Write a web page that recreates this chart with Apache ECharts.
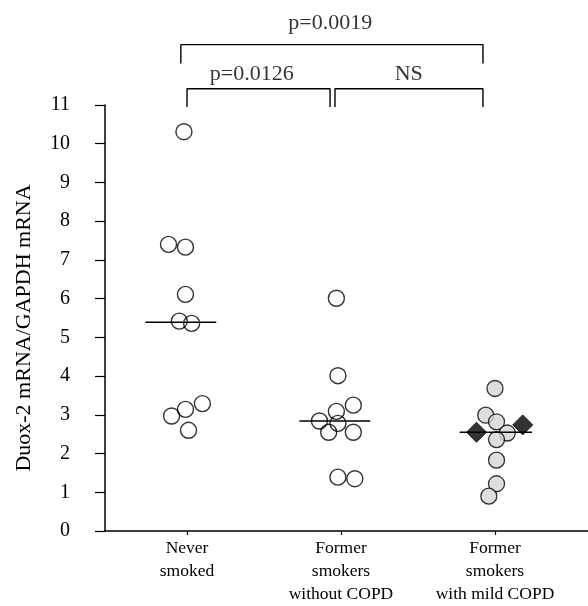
<!DOCTYPE html>
<html>
<head>
<meta charset="utf-8">
<script src="https://cdn.jsdelivr.net/npm/echarts@6/dist/echarts.min.js"></script>
<style>
  html, body { margin: 0; padding: 0; background: #fff; }
  #chart { width: 588px; height: 606px; }
</style>
</head>
<body>
<div id="chart"></div>
<script>
// Group labels and their positions along the x axis
const categories = ['Never\nsmoked', 'Former\nsmokers\nwithout COPD', 'Former\nsmokers\nwith mild COPD'];
const categoryPos = [1, 2, 3];

// Duox-2 / GAPDH mRNA ratios per subject, with horizontal scatter offsets
const neverValues = [10.31, 7.40, 7.33, 6.11, 5.42, 5.36, 3.29, 3.14, 2.97, 2.60];
const neverJitter = [-0.02, -0.12, -0.01, -0.01, -0.05, 0.03, 0.10, -0.01, -0.10, 0.01];

const formerValues = [6.01, 4.01, 3.25, 3.09, 2.84, 2.78, 2.55, 2.55, 1.39, 1.35];
const formerJitter = [-0.03, -0.02, 0.08, -0.03, -0.14, -0.02, -0.08, 0.08, -0.02, 0.09];

const copdValues = [3.68, 2.99, 2.82, 2.53, 2.36, 1.83, 1.22, 0.90];
const copdJitter = [0.00, -0.06, 0.01, 0.08, 0.01, 0.01, 0.01, -0.04];

const copdDiamondValues = [2.55, 2.74];
const copdDiamondJitter = [-0.12, 0.18];

// Group medians and the extent of each median bar (offsets from group position)
const medians = [5.39, 2.84, 2.55];
const medianFrom = [-0.27, -0.27, -0.23];
const medianTo = [0.19, 0.19, 0.24];

// Significance brackets: [x start, x end, y of bar, y of leg ends], and their labels
const brackets = [
  [0.96, 2.922, 12.56, 12.07],
  [1.00, 1.929, 11.42, 10.95],
  [1.961, 2.922, 11.42, 10.95]
];
const bracketLabels = ['p=0.0019', 'p=0.0126', 'NS'];
const bracketLabelPos = [[1.93, 13.1], [1.42, 11.79], [2.44, 11.79]];

const yTicks = [0, 11, 1];

const FONT = '"Liberation Serif", "Times New Roman", serif';

function points(base, values, jitter) {
  return values.map((v, i) => [base + jitter[i], v]);
}

const series = [];

series.push({
  type: 'scatter', z: 3,
  data: points(categoryPos[0], neverValues, neverJitter),
  symbol: 'circle', symbolSize: 16,
  itemStyle: { color: 'rgba(255,255,255,0)', borderColor: '#000', borderWidth: 1.4 }
});
series.push({
  type: 'scatter', z: 3,
  data: points(categoryPos[1], formerValues, formerJitter),
  symbol: 'circle', symbolSize: 16,
  itemStyle: { color: 'rgba(255,255,255,0)', borderColor: '#000', borderWidth: 1.4 }
});
series.push({
  type: 'scatter', z: 3,
  data: points(categoryPos[2], copdValues, copdJitter),
  symbol: 'circle', symbolSize: 16,
  itemStyle: { color: '#d6d6d6', borderColor: '#000', borderWidth: 1.3 }
});
series.push({
  type: 'scatter', z: 4,
  data: points(categoryPos[2], copdDiamondValues, copdDiamondJitter),
  symbol: 'diamond', symbolSize: [20, 20],
  itemStyle: { color: '#000', borderColor: '#000', borderWidth: 1 }
});

medians.forEach((m, i) => {
  series.push({
    type: 'line', z: 5, silent: true, symbol: 'none',
    data: [[categoryPos[i] + medianFrom[i], m], [categoryPos[i] + medianTo[i], m]],
    lineStyle: { color: '#000', width: 1.5 }
  });
});

brackets.forEach(b => {
  series.push({
    type: 'line', z: 5, silent: true, symbol: 'none', clip: false,
    data: [[b[0], b[3]], [b[0], b[2]], [b[1], b[2]], [b[1], b[3]]],
    lineStyle: { color: '#000', width: 1.4 }
  });
});

series.push({
  type: 'scatter', z: 6, silent: true, clip: false,
  symbolSize: 0,
  data: bracketLabelPos.map((p, i) => ({ value: p, name: bracketLabels[i] })),
  label: {
    show: true, position: 'inside', formatter: p => p.name,
    color: '#000', fontFamily: FONT, fontSize: 22
  }
});

const chart = echarts.init(document.getElementById('chart'), null, { renderer: 'canvas' });
chart.setOption({
  animation: false,
  backgroundColor: '#fff',
  grid: { left: 105, right: 0, top: 105, bottom: 66, containLabel: false },
  xAxis: {
    type: 'value', min: 0.4675, max: 3.604,
    splitLine: { show: false },
    axisLine: { show: true, onZero: false, lineStyle: { color: '#000', width: 1.5 } },
    axisTick: { show: true, customValues: categoryPos, length: 4, lineStyle: { color: '#000', width: 1.2 } },
    axisLabel: {
      customValues: categoryPos,
      formatter: v => categories[categoryPos.indexOf(Math.round(v))] || '',
      color: '#000', fontFamily: FONT, fontSize: 17.5, lineHeight: 23, margin: 6, align: 'center'
    }
  },
  yAxis: {
    type: 'value', min: yTicks[0], max: yTicks[1], interval: yTicks[2],
    name: 'Duox-2 mRNA/GAPDH mRNA',
    nameLocation: 'middle', nameGap: 70,
    nameTextStyle: { color: '#000', fontFamily: FONT, fontSize: 22, padding: [0, 20, 0, 0] },
    splitLine: { show: false },
    axisLine: { show: true, lineStyle: { color: '#000', width: 1.5 } },
    axisTick: { show: true, length: 10, lineStyle: { color: '#000', width: 1.2 } },
    axisLabel: { color: '#000', fontFamily: FONT, fontSize: 20, margin: 35, padding: [0, 0, 16, 0] }
  },
  series: series
});
</script>
</body>
</html>
